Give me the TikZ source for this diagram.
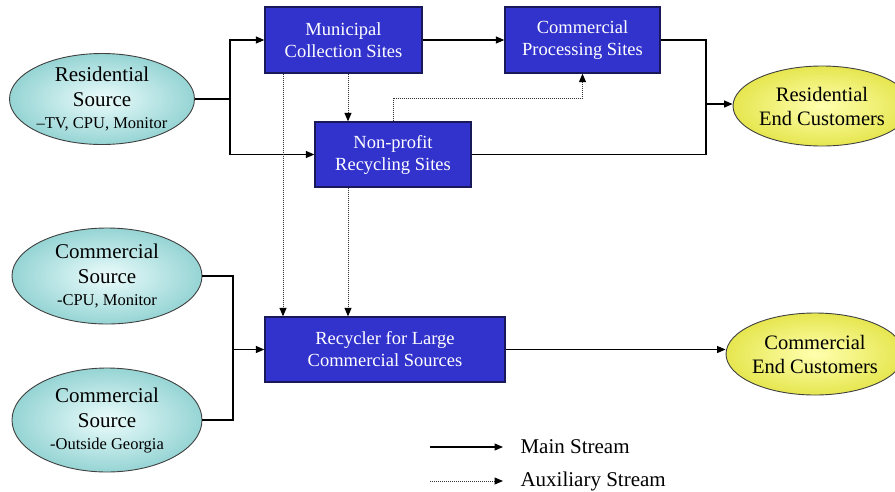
\documentclass[tikz,border=0pt]{standalone}
\usepackage{fontspec}
\setmainfont{Liberation Serif}
\usetikzlibrary{arrows.meta,shapes.geometric}
\definecolor{boxblue}{RGB}{50,50,205}
\definecolor{boxedge}{RGB}{25,25,90}
\definecolor{cyanin}{RGB}{236,252,252}
\definecolor{cyanout}{RGB}{150,212,212}
\definecolor{yelin}{RGB}{255,255,175}
\definecolor{yelout}{RGB}{230,230,80}
\tikzset{
  site/.style={rectangle,draw=boxedge,line width=1.3pt,fill=boxblue,text=white,align=center,
    inner sep=0pt,font=\fontsize{18.5}{22}\selectfont},
  src/.style={ellipse,draw=black!75,line width=0.9pt,shading=radial,inner color=cyanin,outer color=cyanout,
    align=center,inner sep=0pt,font=\fontsize{21}{25}\selectfont,minimum width=181pt},
  cust/.style={ellipse,draw=black!75,line width=0.9pt,shading=radial,inner color=yelin,outer color=yelout,
    align=center,inner sep=0pt,font=\fontsize{20.5}{24}\selectfont},
  main/.style={line width=1.1pt,black},
  aux/.style={line width=1pt,black!80,densely dotted},
  tip/.style={-{Triangle[length=8.5pt,width=7pt]}},
  auxtip/.style={-{Triangle[length=8.5pt,width=7pt,black]}},
  leg/.style={anchor=west,font=\fontsize{21}{24}\selectfont},
  small/.style={font=\fontsize{16.5}{18}\selectfont}
}
\begin{document}
\begin{tikzpicture}[x=1pt,y=-1pt]
\useasboundingbox (0,0) rectangle (895,491);
% nodes
\node[src,minimum height=91pt] (rs) at (102,99) {Residential\\Source\\[-3pt]{\fontsize{16.5}{18}\selectfont –TV, CPU, Monitor}};
\node[src,minimum width=190pt,minimum height=96pt] (cs1) at (107,276) {Commercial\\Source\\[-3pt]{\fontsize{16.5}{18}\selectfont -CPU, Monitor}};
\node[src,minimum width=190pt,minimum height=104pt] (cs2) at (107,420) {Commercial\\Source\\[-3pt]{\fontsize{16.5}{18}\selectfont -Outside Georgia}};
\node[site,minimum width=157pt,minimum height=66pt] (mun) at (343.5,40) {Municipal\\Collection Sites};
\node[site,minimum width=155pt,minimum height=66pt] (cps) at (582.5,40) {Commercial\\Processing Sites};
\node[site,minimum width=156pt,minimum height=65pt] (np) at (393,154.5) {Non-profit\\Recycling Sites};
\node[site,minimum width=240pt,minimum height=65pt] (rlc) at (385,349.5) {Recycler for Large\\Commercial Sources};
\node[cust,minimum width=146pt,minimum height=80pt] (re) at (822,106) {Residential\\End Customers};
\node[cust,minimum width=160pt,minimum height=82pt] (ce) at (815,354) {Commercial\\End Customers};
% junctions
\coordinate (j1) at (230,99);
\coordinate (j2) at (706,104);
\coordinate (j3) at (233,349.5);
\coordinate (xa) at (348,0);
\coordinate (xb) at (283,0);
\coordinate (ya) at (0,98);
% main stream
\draw[main] (rs) -- (j1);
\draw[main,tip] (j1) |- (mun.west);
\draw[main,tip] (j1) |- (np.west);
\draw[main,tip] (mun) -- (cps);
\draw[main] (cps.east) -| (j2);
\draw[main] (np.east) -| (j2);
\draw[main,tip] (j2) -- (j2 -| re.west);
\draw[main] (cs1) -| (j3);
\draw[main] (cs2) -| (j3);
\draw[main,tip] (j3) -- (rlc);
\draw[main,tip] (rlc.east) -- (rlc.east -| ce.west);
% auxiliary stream
\draw[aux,auxtip] (mun.south -| xa) -- (np.north -| xa);
\draw[aux,auxtip] (np.north) -- (np.north |- ya) -| (cps.south);
\draw[aux,auxtip] (mun.south -| xb) -- (rlc.north -| xb);
\draw[aux,auxtip] (np.south -| xa) -- (rlc.north -| xa);
% legend
\coordinate (l1a) at (430,447);
\coordinate (l1b) at (503,447);
\coordinate (l2a) at (430,481);
\coordinate (l2b) at (503,481);
\draw[main,tip] (l1a) -- (l1b);
\draw[aux,auxtip] (l2a) -- (l2b);
\node[leg] (lt1) at (517,447) {Main Stream};
\node[leg] (lt2) at (517,481) {Auxiliary Stream};
\end{tikzpicture}
\end{document}
